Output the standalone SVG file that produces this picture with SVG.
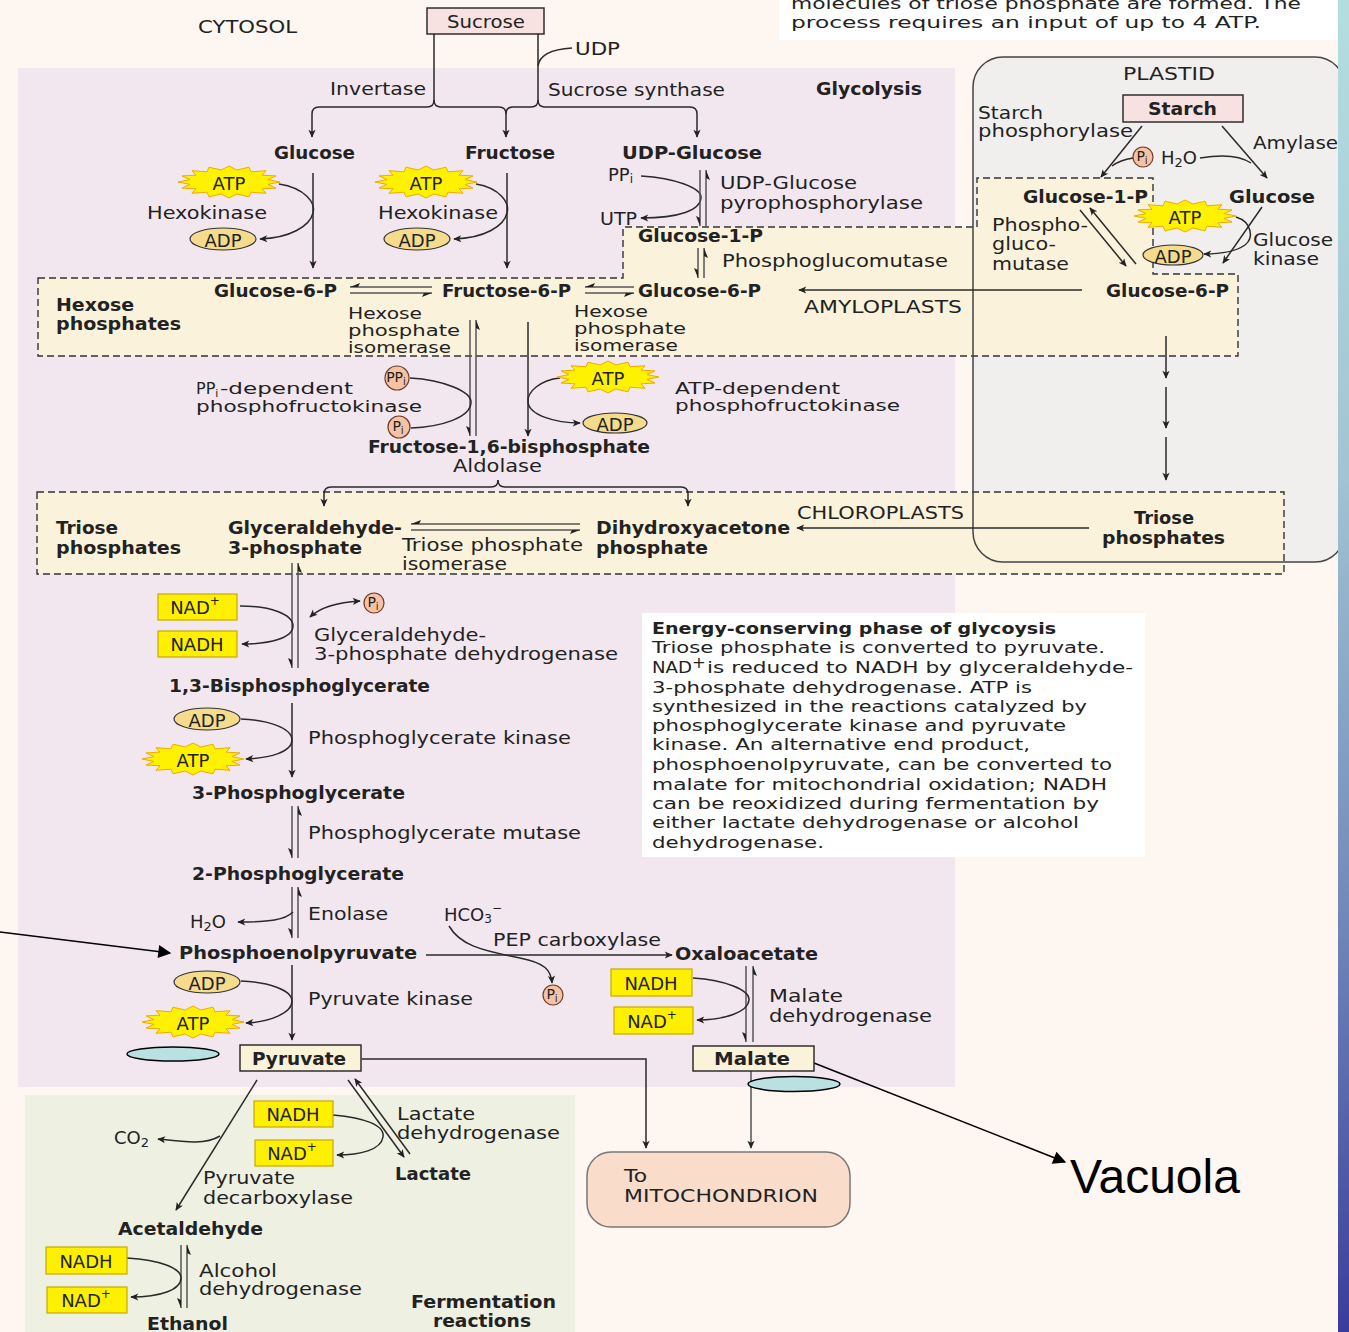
<svg xmlns="http://www.w3.org/2000/svg" width="1349" height="1332" viewBox="0 0 1349 1332">
<defs>
<style>
.r{font-family:"DejaVu Sans","Liberation Sans",sans-serif;font-size:18px;fill:#222;dominant-baseline:central}
.b{font-family:"DejaVu Sans","Liberation Sans",sans-serif;font-size:18px;font-weight:bold;fill:#222;dominant-baseline:central}
.e{font-family:"DejaVu Sans","Liberation Sans",sans-serif;font-size:16.5px;fill:#222;dominant-baseline:central}
.t{font-size:16px}
.s{font-family:"DejaVu Sans","Liberation Sans",sans-serif;font-size:14px;fill:#222;dominant-baseline:central;text-anchor:middle}
.c{text-anchor:middle}
.ln{fill:none;stroke:#2a2a2a;stroke-width:1.5}
.lg{fill:none;stroke:#555;stroke-width:1.5}
.dash{fill:#FBF2DB;stroke:#333;stroke-width:1.4;stroke-dasharray:7 4}
.nad{fill:#FFF000;stroke:#C9A800;stroke-width:1.2}
.adp{fill:#F5DB8C;stroke:#333;stroke-width:1.2}
.atp{fill:#FFF200;stroke:#F2A900;stroke-width:1}
.pi{fill:#F6C2A4;stroke:#6d3b2b;stroke-width:1.2}
.box{fill:#FBF2DA;stroke:#222;stroke-width:1.4}
.pk{fill:#F7E1E1;stroke:#222;stroke-width:1.4}
.bar{fill:#222}
.oval{fill:#B9E1E2;stroke:#000;stroke-width:1.5}
</style>
<marker id="a" viewBox="0 0 10 10" refX="9" refY="5" markerWidth="9" markerHeight="8" markerUnits="userSpaceOnUse" orient="auto-start-reverse"><path d="M0,0.5 L10,5 L0,9.5 L2.5,5 Z" fill="#222"/></marker>
<marker id="A" viewBox="0 0 10 10" refX="9" refY="5" markerWidth="16" markerHeight="13" markerUnits="userSpaceOnUse" orient="auto"><path d="M0,0 L10,5 L0,10 Z" fill="#000"/></marker>
<linearGradient id="strip" x1="0" y1="0" x2="0" y2="1"><stop offset="0" stop-color="#B4DEE0"/><stop offset="0.35" stop-color="#A3C5D3"/><stop offset="0.7" stop-color="#6F86B8"/><stop offset="1" stop-color="#3A3C9C"/></linearGradient>
<polygon id="star" class="atp" points="51,0 39,2.4 47,6.1 33,6.8 37,11.3 22,10.2 20,14.8 7.8,12 0,16 -7.8,12 -20,14.8 -22,10.2 -37,11.3 -33,6.8 -47,6.1 -39,2.4 -51,0 -39,-2.4 -47,-6.1 -33,-6.8 -37,-11.3 -22,-10.2 -20,-14.8 -7.8,-12 0,-16 7.8,-12 20,-14.8 22,-10.2 37,-11.3 33,-6.8 47,-6.1 39,-2.4"/>
</defs>

<g id="background">
<rect x="0" y="0" width="1349" height="1332" fill="#FDF6F1"/>
<rect x="779" y="0" width="559" height="40" fill="#FFFFFF"/>
<rect x="18" y="68" width="937" height="1019" fill="#F3E7EF"/>
<rect x="973" y="57" width="372" height="505" rx="30" fill="#F1EFEE"/>
<rect x="25" y="1095" width="550" height="237" fill="#EEF0E2"/>
<polygon class="dash" points="38,278 623,278 623,227 977,227 977,178 1153,178 1153,274 1238,274 1238,356 38,356"/>
<rect class="dash" x="37" y="492" width="1247" height="82"/>
<rect x="973" y="57" width="372" height="505" rx="30" fill="none" stroke="#444" stroke-width="1.5"/>
<rect x="642" y="613" width="503" height="244" fill="#FFFFFF"/>
<rect x="1338" y="0" width="11" height="1332" fill="url(#strip)"/>
</g>

<g id="connectors">
<path class="ln" d="M434,34 V100 Q434,107 427,107 H319 Q312,107 312,114 V137" marker-end="url(#a)"/>
<path class="ln" d="M434,100 Q434,107 441,107 H499 Q506,107 506,114 V137" marker-end="url(#a)"/>
<path class="ln" d="M538,34 V100 Q538,107 531,107 H513 Q506,107 506,114"/>
<path class="ln" d="M538,100 Q538,107 545,107 H690 Q697,107 697,114 V137" marker-end="url(#a)"/>
<path class="ln" d="M538,66 Q540,50 572,48"/>
<path class="ln" d="M313,173 V268" marker-end="url(#a)"/>
<path class="ln" d="M279,184 C305,188 316,203 313,213 C310,226 290,238 260,239" marker-end="url(#a)"/>
<path class="ln" d="M507,173 V268" marker-end="url(#a)"/>
<path class="ln" d="M476,184 C500,188 510,203 507,213 C504,226 485,238 454,239" marker-end="url(#a)"/>
<path class="ln" d="M641,176 C675,178 702,188 701,198 C700,210 680,218 641,218" marker-end="url(#a)"/>
<path class="lg" d="M700,170 V226 M706,170 V226"/>
<path class="bar" d="M700,226 l-4,-10 l4,2 z M706,170 l4,10 l-4,-2 z"/>
<path class="lg" d="M698,248 V278 M704,248 V278"/>
<path class="bar" d="M698,278 l-4,-10 l4,2 z M704,248 l4,10 l-4,-2 z"/>
<path class="lg" d="M350,287 H432 M350,293 H432"/>
<path class="bar" d="M350,287 l10,-4 l-2,4 z M432,293 l-10,4 l2,-4 z"/>
<path class="lg" d="M585,287 H634 M585,293 H634"/>
<path class="bar" d="M585,287 l10,-4 l-2,4 z M634,293 l-10,4 l2,-4 z"/>
<path class="ln" d="M1082,290 H799" marker-end="url(#a)"/>
<path class="lg" d="M470,320 V436 M476,320 V436"/>
<path class="bar" d="M470,436 l-4,-10 l4,2 z M476,320 l4,10 l-4,-2 z"/>
<path class="ln" d="M528,322 V436" marker-end="url(#a)"/>
<path class="ln" d="M410,378 C445,380 471,392 471,402 C471,418 440,427 411,428"/>
<path class="ln" d="M560,378 C540,380 527,392 528,402 C529,415 555,423 580,423" marker-end="url(#a)"/>
<path class="ln" d="M498,480 Q498,487 491,487 H331 Q324,487 324,494 V506" marker-end="url(#a)"/>
<path class="ln" d="M498,480 Q498,487 505,487 H681 Q688,487 688,494 V506" marker-end="url(#a)"/>
<path class="lg" d="M411,524 H580 M411,530 H580"/>
<path class="bar" d="M411,524 l10,-4 l-2,4 z M580,530 l-10,4 l2,-4 z"/>
<path class="ln" d="M1089,528 H797" marker-end="url(#a)"/>
<path class="ln" d="M1142,126 L1101,177" marker-end="url(#a)"/>
<path class="ln" d="M1133,158 Q1120,160 1112,166"/>
<path class="ln" d="M1222,126 L1267,178" marker-end="url(#a)"/>
<path class="ln" d="M1200,158 Q1235,152 1251,163"/>
<path class="ln" d="M1080,210 L1126,266" marker-end="url(#a)"/>
<path class="ln" d="M1136,264 L1090,208" marker-end="url(#a)"/>
<path class="ln" d="M1262,207 L1223,263" marker-end="url(#a)"/>
<path class="ln" d="M1236,217 C1252,222 1254,238 1245,245 C1235,252 1220,254 1204,254" marker-end="url(#a)"/>
<path class="ln" d="M1166,336 V378" marker-end="url(#a)"/>
<path class="ln" d="M1166,387 V428" marker-end="url(#a)"/>
<path class="ln" d="M1166,437 V480" marker-end="url(#a)"/>
<path class="lg" d="M292,563 V668 M298,563 V668"/>
<path class="bar" d="M292,668 l-4,-10 l4,2 z M298,563 l4,10 l-4,-2 z"/>
<path class="ln" d="M240,606 C270,606 293,614 293,626 C293,638 270,644 242,644" marker-end="url(#a)"/>
<path class="ln" d="M310,617 Q325,603 360,601" marker-start="url(#a)" marker-end="url(#a)"/>
<path class="ln" d="M292,703 V777" marker-end="url(#a)"/>
<path class="ln" d="M241,719 C268,720 292,728 292,740 C292,752 270,758 246,759" marker-end="url(#a)"/>
<path class="lg" d="M292,806 V858 M298,806 V858"/>
<path class="bar" d="M292,858 l-4,-10 l4,2 z M298,806 l4,10 l-4,-2 z"/>
<path class="lg" d="M292,887 V938 M298,887 V938"/>
<path class="bar" d="M292,938 l-4,-10 l4,2 z M298,887 l4,10 l-4,-2 z"/>
<path class="ln" d="M293,912 C285,920 270,922 238,922" marker-end="url(#a)"/>
<path class="ln" d="M426,955 H672" marker-end="url(#a)"/>
<path class="ln" d="M449,926 C460,945 480,950 520,958 C545,963 551,970 552,983" marker-end="url(#a)"/>
<path class="ln" d="M292,965 V1040" marker-end="url(#a)"/>
<path class="ln" d="M241,981 C268,982 292,990 292,1001 C292,1013 270,1022 246,1023" marker-end="url(#a)"/>
<path class="lg" d="M746,966 V1042 M753,966 V1042"/>
<path class="bar" d="M746,1042 l-4,-10 l4,2 z M753,966 l4,10 l-4,-2 z"/>
<path class="ln" d="M693,978 C725,980 750,990 749,1000 C748,1012 725,1020 697,1020" marker-end="url(#a)"/>
<path class="ln" d="M362,1059 H646 V1148" marker-end="url(#a)"/>
<path class="lg" d="M751,1071 V1148" marker-end="url(#a)"/>
<path class="ln" d="M257,1080 L176,1210" marker-end="url(#a)"/>
<path class="ln" d="M220,1136 C205,1145 185,1142 158,1139" marker-end="url(#a)"/>
<path class="ln" d="M348,1080 L404,1157" marker-end="url(#a)"/>
<path class="ln" d="M410,1154 L355,1079" marker-end="url(#a)"/>
<path class="ln" d="M333,1115 C365,1118 385,1125 383,1137 C381,1150 360,1155 337,1155" marker-end="url(#a)"/>
<path class="lg" d="M181,1245 V1308 M187,1245 V1308"/>
<path class="bar" d="M181,1308 l-4,-10 l4,2 z M187,1245 l4,10 l-4,-2 z"/>
<path class="ln" d="M127,1258 C160,1260 181,1268 181,1278 C181,1290 160,1297 131,1297" marker-end="url(#a)"/>
<path d="M0,932 L170,953" fill="none" stroke="#000" stroke-width="1.5" marker-end="url(#A)"/>
<path d="M814,1063 L1065,1162" fill="none" stroke="#000" stroke-width="1.5" marker-end="url(#A)"/>
</g>

<g id="top-note">
<text class="e" x="791" y="3" textLength="510" lengthAdjust="spacingAndGlyphs">molecules of triose phosphate are formed. The</text>
<text class="e" x="791" y="22" textLength="470" lengthAdjust="spacingAndGlyphs">process requires an input of up to 4 ATP.</text>
</g>
<g id="cytosol-label"><text class="r" x="198" y="26" textLength="99" lengthAdjust="spacingAndGlyphs">CYTOSOL</text></g>
<g id="n-sucrose"><rect class="pk" x="427" y="8" width="117" height="26"/><text class="r" x="447" y="21" textLength="78" lengthAdjust="spacingAndGlyphs">Sucrose</text></g>
<g id="n-udp"><text class="r" x="575" y="48" textLength="45" lengthAdjust="spacingAndGlyphs">UDP</text></g>
<g id="e-invertase"><text class="r" x="330" y="88" textLength="96" lengthAdjust="spacingAndGlyphs">Invertase</text></g>
<g id="e-sucsyn"><text class="r" x="548" y="89" textLength="177" lengthAdjust="spacingAndGlyphs">Sucrose synthase</text></g>
<g id="glycolysis-label"><text class="b" x="816" y="88" textLength="106" lengthAdjust="spacingAndGlyphs">Glycolysis</text></g>
<g id="n-glucose"><text class="b" x="274" y="152" textLength="81" lengthAdjust="spacingAndGlyphs">Glucose</text></g>
<g id="n-fructose"><text class="b" x="465" y="152" textLength="90" lengthAdjust="spacingAndGlyphs">Fructose</text></g>
<g id="n-udpglucose"><text class="b" x="622" y="152" textLength="140" lengthAdjust="spacingAndGlyphs">UDP-Glucose</text></g>
<g id="hk1"><use href="#star" x="229" y="182"/><text class="r c" x="229" y="183">ATP</text><text class="r" x="147" y="212" textLength="120" lengthAdjust="spacingAndGlyphs">Hexokinase</text><ellipse class="adp" cx="223" cy="239" rx="33" ry="11"/><text class="r c" x="223" y="240">ADP</text></g>
<g id="hk2"><use href="#star" x="426" y="182"/><text class="r c" x="426" y="183">ATP</text><text class="r" x="378" y="212" textLength="120" lengthAdjust="spacingAndGlyphs">Hexokinase</text><ellipse class="adp" cx="417" cy="239" rx="33" ry="11"/><text class="r c" x="417" y="240">ADP</text></g>
<g id="ugp"><text class="r" x="608" y="174">PP<tspan dy="5" font-size="12">i</tspan></text><text class="r" x="600" y="218" textLength="37" lengthAdjust="spacingAndGlyphs">UTP</text><text class="r" x="720" y="182" textLength="137" lengthAdjust="spacingAndGlyphs">UDP-Glucose</text><text class="r" x="720" y="202" textLength="203" lengthAdjust="spacingAndGlyphs">pyrophosphorylase</text></g>
<g id="n-g1p"><text class="b" x="638" y="235" textLength="125" lengthAdjust="spacingAndGlyphs">Glucose-1-P</text></g>
<g id="e-pgm"><text class="r" x="722" y="260" textLength="226" lengthAdjust="spacingAndGlyphs">Phosphoglucomutase</text></g>
<g id="n-g6p-a"><text class="b" x="214" y="290" textLength="123" lengthAdjust="spacingAndGlyphs">Glucose-6-P</text></g>
<g id="n-f6p"><text class="b" x="442" y="290" textLength="129" lengthAdjust="spacingAndGlyphs">Fructose-6-P</text></g>
<g id="n-g6p-b"><text class="b" x="638" y="290" textLength="123" lengthAdjust="spacingAndGlyphs">Glucose-6-P</text></g>
<g id="amyloplasts"><text class="r" x="804" y="306" textLength="158" lengthAdjust="spacingAndGlyphs">AMYLOPLASTS</text></g>
<g id="hexose-label"><text class="b" x="56" y="304" font-size="17" textLength="78" lengthAdjust="spacingAndGlyphs">Hexose</text><text class="b" x="56" y="323" font-size="17" textLength="125" lengthAdjust="spacingAndGlyphs">phosphates</text></g>
<g id="e-hpi1"><text class="r t" x="348" y="313" textLength="74" lengthAdjust="spacingAndGlyphs">Hexose</text><text class="r t" x="348" y="330" textLength="112" lengthAdjust="spacingAndGlyphs">phosphate</text><text class="r t" x="348" y="347" textLength="103" lengthAdjust="spacingAndGlyphs">isomerase</text></g>
<g id="e-hpi2"><text class="r t" x="574" y="311" textLength="74" lengthAdjust="spacingAndGlyphs">Hexose</text><text class="r t" x="574" y="328" textLength="112" lengthAdjust="spacingAndGlyphs">phosphate</text><text class="r t" x="574" y="345" textLength="104" lengthAdjust="spacingAndGlyphs">isomerase</text></g>
<g id="ppi-pfk"><circle class="pi" cx="397" cy="378" r="12"/><text class="s" x="396" y="377">PP<tspan dy="4" font-size="10">i</tspan></text><circle class="pi" cx="399" cy="427" r="11"/><text class="s" x="398" y="426">P<tspan dy="4" font-size="10">i</tspan></text><text class="r t" x="196" y="388">PP<tspan dy="5" font-size="11">i</tspan></text><text class="r t" x="220" y="388" textLength="133" lengthAdjust="spacingAndGlyphs">-dependent</text><text class="r t" x="196" y="406" textLength="226" lengthAdjust="spacingAndGlyphs">phosphofructokinase</text></g>
<g id="atp-pfk"><use href="#star" x="608" y="377"/><text class="r c" x="608" y="378">ATP</text><ellipse class="adp" cx="615" cy="423" rx="32" ry="10"/><text class="r c" x="615" y="424">ADP</text><text class="r t" x="675" y="388" textLength="165" lengthAdjust="spacingAndGlyphs">ATP-dependent</text><text class="r t" x="675" y="405" textLength="225" lengthAdjust="spacingAndGlyphs">phosphofructokinase</text></g>
<g id="n-fbp"><text class="b" x="368" y="446" textLength="282" lengthAdjust="spacingAndGlyphs">Fructose-1,6-bisphosphate</text></g>
<g id="e-aldolase"><text class="r" x="453" y="465" textLength="89" lengthAdjust="spacingAndGlyphs">Aldolase</text></g>
<g id="triose-label"><text class="b" x="56" y="527" textLength="62" lengthAdjust="spacingAndGlyphs">Triose</text><text class="b" x="56" y="547" textLength="125" lengthAdjust="spacingAndGlyphs">phosphates</text></g>
<g id="n-g3p"><text class="b" x="228" y="527" textLength="174" lengthAdjust="spacingAndGlyphs">Glyceraldehyde-</text><text class="b" x="228" y="547" textLength="134" lengthAdjust="spacingAndGlyphs">3-phosphate</text></g>
<g id="e-tpi"><text class="r" x="402" y="544" textLength="181" lengthAdjust="spacingAndGlyphs">Triose phosphate</text><text class="r" x="402" y="563" textLength="105" lengthAdjust="spacingAndGlyphs">isomerase</text></g>
<g id="n-dhap"><text class="b" x="596" y="527" textLength="194" lengthAdjust="spacingAndGlyphs">Dihydroxyacetone</text><text class="b" x="596" y="547" textLength="112" lengthAdjust="spacingAndGlyphs">phosphate</text></g>
<g id="chloroplasts"><text class="r" x="797" y="512" textLength="167" lengthAdjust="spacingAndGlyphs">CHLOROPLASTS</text></g>
<g id="n-triose-plastid"><text class="b" x="1134" y="517" textLength="60" lengthAdjust="spacingAndGlyphs">Triose</text><text class="b" x="1102" y="537" textLength="123" lengthAdjust="spacingAndGlyphs">phosphates</text></g>
<g id="plastid-label"><text class="r" x="1123" y="73" textLength="92" lengthAdjust="spacingAndGlyphs">PLASTID</text></g>
<g id="n-starch"><rect class="pk" x="1123" y="95" width="120" height="27"/><text class="b" x="1148" y="108" textLength="69" lengthAdjust="spacingAndGlyphs">Starch</text></g>
<g id="e-starchphos"><text class="r" x="978" y="112" textLength="65" lengthAdjust="spacingAndGlyphs">Starch</text><text class="r" x="978" y="130" textLength="155" lengthAdjust="spacingAndGlyphs">phosphorylase</text><circle class="pi" cx="1143" cy="157" r="10"/><text class="s" x="1142" y="156">P<tspan dy="4" font-size="10">i</tspan></text></g>
<g id="e-amylase"><text class="r" x="1253" y="142" textLength="85" lengthAdjust="spacingAndGlyphs">Amylase</text><text class="r" x="1161" y="157">H<tspan dy="5" font-size="13">2</tspan><tspan dy="-5">O</tspan></text></g>
<g id="n-g1p-plastid"><text class="b" x="1023" y="196" textLength="125" lengthAdjust="spacingAndGlyphs">Glucose-1-P</text></g>
<g id="n-glucose-plastid"><text class="b" x="1229" y="196" textLength="86" lengthAdjust="spacingAndGlyphs">Glucose</text></g>
<g id="e-pgm-plastid"><text class="r" x="992" y="224" textLength="96" lengthAdjust="spacingAndGlyphs">Phospho-</text><text class="r" x="992" y="243" textLength="64" lengthAdjust="spacingAndGlyphs">gluco-</text><text class="r" x="992" y="263" textLength="77" lengthAdjust="spacingAndGlyphs">mutase</text></g>
<g id="gk"><use href="#star" x="1185" y="216"/><text class="r c" x="1185" y="217">ATP</text><ellipse class="adp" cx="1173" cy="255" rx="30" ry="10"/><text class="r c" x="1173" y="256">ADP</text><text class="r" x="1253" y="239" textLength="80" lengthAdjust="spacingAndGlyphs">Glucose</text><text class="r" x="1253" y="258" textLength="66" lengthAdjust="spacingAndGlyphs">kinase</text></g>
<g id="n-g6p-plastid"><text class="b" x="1106" y="290" textLength="123" lengthAdjust="spacingAndGlyphs">Glucose-6-P</text></g>
<g id="gapdh"><rect class="nad" x="158" y="594" width="79" height="26"/><text class="r c" x="195" y="607">NAD<tspan dy="-6" font-size="12">+</tspan></text><rect class="nad" x="158" y="631" width="79" height="26"/><text class="r c" x="197" y="644">NADH</text><circle class="pi" cx="374" cy="603" r="10"/><text class="s" x="373" y="602">P<tspan dy="4" font-size="10">i</tspan></text><text class="r" x="314" y="634" textLength="172" lengthAdjust="spacingAndGlyphs">Glyceraldehyde-</text><text class="r" x="314" y="653" textLength="304" lengthAdjust="spacingAndGlyphs">3-phosphate dehydrogenase</text></g>
<g id="n-bpg"><text class="b" x="169" y="685" textLength="261" lengthAdjust="spacingAndGlyphs">1,3-Bisphosphoglycerate</text></g>
<g id="pgk"><ellipse class="adp" cx="207" cy="719" rx="33" ry="11"/><text class="r c" x="207" y="720">ADP</text><use href="#star" x="193" y="759"/><text class="r c" x="193" y="760">ATP</text><text class="r" x="308" y="737" textLength="263" lengthAdjust="spacingAndGlyphs">Phosphoglycerate kinase</text></g>
<g id="n-3pg"><text class="b" x="192" y="792" textLength="213" lengthAdjust="spacingAndGlyphs">3-Phosphoglycerate</text></g>
<g id="e-pglym"><text class="r" x="308" y="832" textLength="273" lengthAdjust="spacingAndGlyphs">Phosphoglycerate mutase</text></g>
<g id="n-2pg"><text class="b" x="192" y="873" textLength="212" lengthAdjust="spacingAndGlyphs">2-Phosphoglycerate</text></g>
<g id="enolase"><text class="r" x="308" y="913" textLength="80" lengthAdjust="spacingAndGlyphs">Enolase</text><text class="r" x="190" y="921">H<tspan dy="5" font-size="13">2</tspan><tspan dy="-5">O</tspan></text></g>
<g id="pepc"><text class="r" x="444" y="914">HCO<tspan dy="5" font-size="12">3</tspan><tspan dy="-11" font-size="12">−</tspan></text><text class="r" x="493" y="939" textLength="168" lengthAdjust="spacingAndGlyphs">PEP carboxylase</text><circle class="pi" cx="553" cy="995" r="10"/><text class="s" x="552" y="994">P<tspan dy="4" font-size="10">i</tspan></text></g>
<g id="n-pep"><text class="b" x="179" y="952" textLength="238" lengthAdjust="spacingAndGlyphs">Phosphoenolpyruvate</text></g>
<g id="n-oaa"><text class="b" x="675" y="953" textLength="143" lengthAdjust="spacingAndGlyphs">Oxaloacetate</text></g>
<g id="pk"><ellipse class="adp" cx="207" cy="982" rx="33" ry="11"/><text class="r c" x="207" y="983">ADP</text><use href="#star" x="193" y="1022"/><text class="r c" x="193" y="1023">ATP</text><text class="r" x="308" y="998" textLength="165" lengthAdjust="spacingAndGlyphs">Pyruvate kinase</text></g>
<g id="mdh"><rect class="nad" x="611" y="969" width="81" height="27"/><text class="r c" x="651" y="983">NADH</text><rect class="nad" x="614" y="1007" width="79" height="27"/><text class="r c" x="652" y="1021">NAD<tspan dy="-6" font-size="12">+</tspan></text><text class="r" x="769" y="995" textLength="74" lengthAdjust="spacingAndGlyphs">Malate</text><text class="r" x="769" y="1015" textLength="163" lengthAdjust="spacingAndGlyphs">dehydrogenase</text></g>
<g id="n-pyruvate"><ellipse class="oval" cx="173" cy="1054" rx="46" ry="7"/><rect class="box" x="240" y="1045" width="121" height="26"/><text class="b" x="252" y="1058" textLength="94" lengthAdjust="spacingAndGlyphs">Pyruvate</text></g>
<g id="n-malate"><rect class="box" x="693" y="1046" width="121" height="25"/><text class="b" x="714" y="1058" textLength="76" lengthAdjust="spacingAndGlyphs">Malate</text><ellipse class="oval" cx="794" cy="1084" rx="46" ry="7.5"/></g>
<g id="n-mito"><rect x="587" y="1152" width="263" height="75" rx="24" fill="#F9DCCA" stroke="#777" stroke-width="1.5"/><text class="r" x="624" y="1175" textLength="23" lengthAdjust="spacingAndGlyphs">To</text><text class="r" x="624" y="1195" textLength="194" lengthAdjust="spacingAndGlyphs">MITOCHONDRION</text></g>
<g id="n-vacuola"><text x="1070" y="1193" font-family="Liberation Sans,Arial,sans-serif" font-size="48" fill="#000">Vacuola</text></g>
<g id="energy-note">
<text class="e" x="652" y="628" font-weight="bold" textLength="404" lengthAdjust="spacingAndGlyphs">Energy-conserving phase of glycoysis</text>
<text class="e" x="652" y="647" textLength="453" lengthAdjust="spacingAndGlyphs">Triose phosphate is converted to pyruvate.</text>
<text class="e" x="652" y="667" textLength="40" lengthAdjust="spacingAndGlyphs">NAD</text>
<text class="e" x="692" y="662" font-size="11">+</text>
<text class="e" x="707" y="667" textLength="426" lengthAdjust="spacingAndGlyphs">is reduced to NADH by glyceraldehyde-</text>
<text class="e" x="652" y="687" textLength="380" lengthAdjust="spacingAndGlyphs">3-phosphate dehydrogenase. ATP is</text>
<text class="e" x="652" y="706" textLength="435" lengthAdjust="spacingAndGlyphs">synthesized in the reactions catalyzed by</text>
<text class="e" x="652" y="725" textLength="414" lengthAdjust="spacingAndGlyphs">phosphoglycerate kinase and pyruvate</text>
<text class="e" x="652" y="744" textLength="378" lengthAdjust="spacingAndGlyphs">kinase. An alternative end product,</text>
<text class="e" x="652" y="764" textLength="460" lengthAdjust="spacingAndGlyphs">phosphoenolpyruvate, can be converted to</text>
<text class="e" x="652" y="784" textLength="455" lengthAdjust="spacingAndGlyphs">malate for mitochondrial oxidation; NADH</text>
<text class="e" x="652" y="803" textLength="447" lengthAdjust="spacingAndGlyphs">can be reoxidized during fermentation by</text>
<text class="e" x="652" y="822" textLength="427" lengthAdjust="spacingAndGlyphs">either lactate dehydrogenase or alcohol</text>
<text class="e" x="652" y="842" textLength="172" lengthAdjust="spacingAndGlyphs">dehydrogenase.</text>
</g>
<g id="ldh"><rect class="nad" x="254" y="1101" width="79" height="26"/><text class="r c" x="293" y="1114">NADH</text><rect class="nad" x="255" y="1140" width="78" height="26"/><text class="r c" x="292" y="1153">NAD<tspan dy="-6" font-size="12">+</tspan></text><text class="r" x="397" y="1113" textLength="78" lengthAdjust="spacingAndGlyphs">Lactate</text><text class="r" x="397" y="1132" textLength="163" lengthAdjust="spacingAndGlyphs">dehydrogenase</text></g>
<g id="n-lactate"><text class="b" x="395" y="1173" textLength="76" lengthAdjust="spacingAndGlyphs">Lactate</text></g>
<g id="pdc"><text class="r" x="114" y="1137">CO<tspan dy="5" font-size="13">2</tspan></text><text class="r" x="203" y="1177" textLength="92" lengthAdjust="spacingAndGlyphs">Pyruvate</text><text class="r" x="203" y="1197" textLength="150" lengthAdjust="spacingAndGlyphs">decarboxylase</text></g>
<g id="n-acetaldehyde"><text class="b" x="118" y="1228" textLength="145" lengthAdjust="spacingAndGlyphs">Acetaldehyde</text></g>
<g id="adh"><rect class="nad" x="46" y="1247" width="81" height="27"/><text class="r c" x="86" y="1261">NADH</text><rect class="nad" x="47" y="1287" width="80" height="26"/><text class="r c" x="86" y="1300">NAD<tspan dy="-6" font-size="12">+</tspan></text><text class="r" x="199" y="1270" textLength="78" lengthAdjust="spacingAndGlyphs">Alcohol</text><text class="r" x="199" y="1288" textLength="163" lengthAdjust="spacingAndGlyphs">dehydrogenase</text></g>
<g id="n-ethanol"><text class="b" x="147" y="1323" textLength="81" lengthAdjust="spacingAndGlyphs">Ethanol</text></g>
<g id="fermentation-label"><text class="b" x="411" y="1301" textLength="145" lengthAdjust="spacingAndGlyphs">Fermentation</text><text class="b" x="433" y="1320" textLength="98" lengthAdjust="spacingAndGlyphs">reactions</text></g>
</svg>
